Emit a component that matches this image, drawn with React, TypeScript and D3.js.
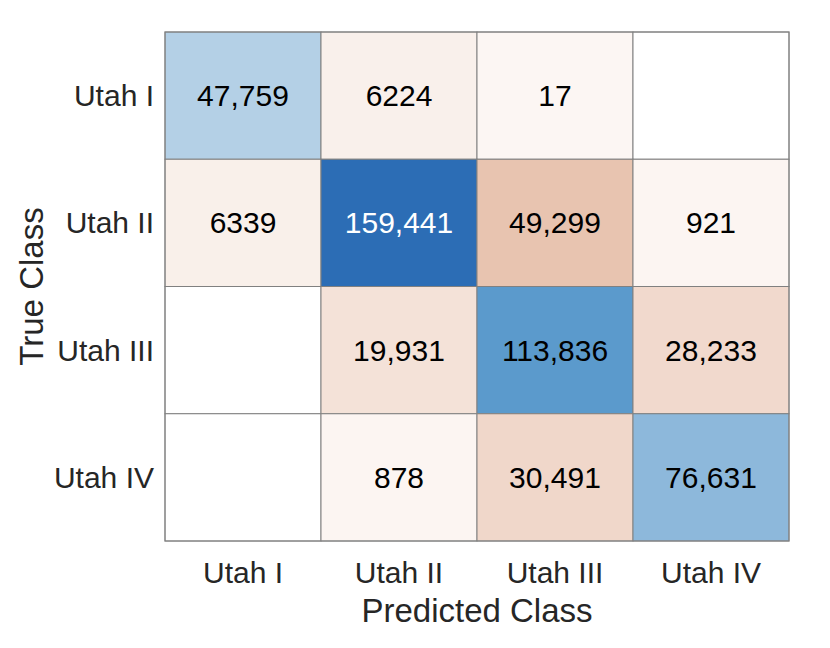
import React from "react";
import * as d3 from "d3";

const classes = ["Utah I", "Utah II", "Utah III", "Utah IV"];
const row1 = [47759, 6224, 17, 0];
const row2 = [6339, 159441, 49299, 921];
const row3 = [0, 19931, 113836, 28233];
const row4 = [0, 878, 30491, 76631];
const matrix = [row1, row2, row3, row4];
const xTitle = "Predicted Class";
const yTitle = "True Class";

const W = 830, H = 648;
const left = 165, right = 789, top = 32, bottom = 541;
const FONT = "'Liberation Sans', Arial, Helvetica, sans-serif";

export default function App() {
  const x = d3.scaleBand().domain(classes).range([left, right]);
  const y = d3.scaleBand().domain(classes).range([top, bottom]);
  const diagMax = d3.max(matrix.map((r, i) => r[i])) as number;
  const offMax = d3.max(matrix.flatMap((r, i) => r.filter((_, j) => j !== i))) as number;
  const offFull = "#e8c4b0";
  const diagColor = d3.scaleLinear<string>()
    .domain([0, diagMax * 0.714, diagMax])
    .range(["#f4f7f9", "#5b9acc", "#2c6db5"])
    .interpolate(d3.interpolateRgb);
  const offColor = d3.scaleLinear<string>().domain([0, offMax]).range([d3.interpolateRgb("#ffffff", offFull)(0.15), offFull]).interpolate(d3.interpolateRgb);
  const fmt = (v: number) => (v >= 10000 ? d3.format(",")(v) : String(v));

  const cells: any[] = [];
  matrix.forEach((r, i) =>
    r.forEach((v, j) => {
      const fill = v === 0 ? "#ffffff" : i === j ? diagColor(v) : offColor(v);
      const dark = i === j && v / diagMax > 0.8;
      cells.push({ i, j, v, fill, dark });
    })
  );

  return (
    <svg width={W} height={H} style={{ position: "absolute", left: 0, top: 0, background: "#fff" }} fontFamily={FONT}>
      {cells.map((c) => (
        <rect key={`r${c.i}-${c.j}`} x={x(classes[c.j])} y={y(classes[c.i])} width={x.bandwidth()} height={y.bandwidth()} fill={c.fill} stroke="#808080" strokeWidth={1} />
      ))}
      {cells.filter((c) => c.v !== 0).map((c) => (
        <text key={`t${c.i}-${c.j}`} x={(x(classes[c.j]) as number) + x.bandwidth() / 2} y={(y(classes[c.i]) as number) + y.bandwidth() / 2} dy="0.35em" textAnchor="middle" fontSize={30} fill={c.dark ? "#ffffff" : "#000000"}>
          {fmt(c.v)}
        </text>
      ))}
      <rect x={left} y={top} width={right - left} height={bottom - top} fill="none" stroke="#808080" strokeWidth={1} />
      {classes.map((c) => (
        <text key={`yl${c}`} x={154} y={(y(c) as number) + y.bandwidth() / 2} dy="0.35em" textAnchor="end" fontSize={30} fill="#262626">{c}</text>
      ))}
      {classes.map((c) => (
        <text key={`xl${c}`} x={(x(c) as number) + x.bandwidth() / 2} y={583} textAnchor="middle" fontSize={30} fill="#262626">{c}</text>
      ))}
      <text x={(left + right) / 2} y={622} textAnchor="middle" fontSize={33} fill="#262626">{xTitle}</text>
      <text transform={`translate(43, ${(top + bottom) / 2}) rotate(-90)`} textAnchor="middle" fontSize={33} fill="#262626">{yTitle}</text>
    </svg>
  );
}
